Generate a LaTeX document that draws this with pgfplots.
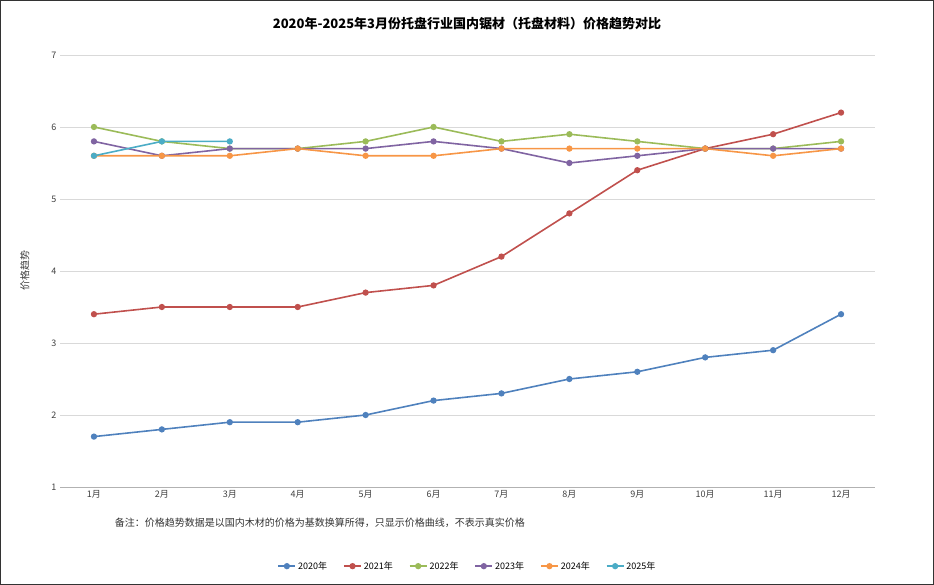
\documentclass[border=0pt]{standalone}
\usepackage{pgfplots}
\pgfplotsset{compat=1.18}
\usepackage{fontspec}
\setmainfont{Noto Sans CJK SC}
\definecolor{c1}{HTML}{4F81BD}
\definecolor{c2}{HTML}{C0504D}
\definecolor{c3}{HTML}{9BBB59}
\definecolor{c4}{HTML}{8064A2}
\definecolor{c5}{HTML}{F79646}
\definecolor{c6}{HTML}{4BACC6}
\begin{document}
\begin{tikzpicture}[x=1pt,y=1pt]
\draw[black!80,line width=1pt] (0.5,0.5) rectangle (933.5,584.5);
\node[font=\fontsize{13}{15}\selectfont\bfseries] at (467,561) {2020年-2025年3月份托盘行业国内锯材（托盘材料）价格趋势对比};
\begin{axis}[at={(60pt,98pt)},anchor=south west,scale only axis,
 width=815pt,height=432pt,
 xmin=0.5,xmax=12.5,ymin=1,ymax=7,
 xtick={1,...,12},xticklabels={1月,2月,3月,4月,5月,6月,7月,8月,9月,10月,11月,12月},
 ytick={1,...,7},
 /pgf/number format/assume math mode=true,
 tick label style={font=\fontsize{9}{11}\selectfont,text=black!75},
 axis x line*=bottom, axis y line*=left,
 x axis line style={black!30,-},
 y axis line style={draw=none},
 xtick style={draw=none}, ytick style={draw=none},
 ymajorgrids, grid style={black!15},
 ylabel={价格趋势},
 every axis y label/.style={at={(-0.043,0.5)},rotate=90,font=\fontsize{10}{12}\selectfont,text=black!75},
 legend style={at={(0.5,-0.163)},anchor=north,legend columns=-1,draw=none,font=\fontsize{9}{11}\selectfont,/tikz/every even column/.append style={column sep=14pt}},
 every axis plot/.append style={line width=1.6pt,mark=*,mark size=2.3pt},
 clip=false]
\addplot[c1,mark options={fill=c1}] coordinates {(1,1.7)(2,1.8)(3,1.9)(4,1.9)(5,2.0)(6,2.2)(7,2.3)(8,2.5)(9,2.6)(10,2.8)(11,2.9)(12,3.4)};
\addlegendentry{2020年}
\addplot[c2,mark options={fill=c2}] coordinates {(1,3.4)(2,3.5)(3,3.5)(4,3.5)(5,3.7)(6,3.8)(7,4.2)(8,4.8)(9,5.4)(10,5.7)(11,5.9)(12,6.2)};
\addlegendentry{2021年}
\addplot[c3,mark options={fill=c3}] coordinates {(1,6.0)(2,5.8)(3,5.7)(4,5.7)(5,5.8)(6,6.0)(7,5.8)(8,5.9)(9,5.8)(10,5.7)(11,5.7)(12,5.8)};
\addlegendentry{2022年}
\addplot[c4,mark options={fill=c4}] coordinates {(1,5.8)(2,5.6)(3,5.7)(4,5.7)(5,5.7)(6,5.8)(7,5.7)(8,5.5)(9,5.6)(10,5.7)(11,5.7)(12,5.7)};
\addlegendentry{2023年}
\addplot[c5,mark options={fill=c5}] coordinates {(1,5.6)(2,5.6)(3,5.6)(4,5.7)(5,5.6)(6,5.6)(7,5.7)(8,5.7)(9,5.7)(10,5.7)(11,5.6)(12,5.7)};
\addlegendentry{2024年}
\addplot[c6,mark options={fill=c6}] coordinates {(1,5.6)(2,5.8)(3,5.8)};
\addlegendentry{2025年}
\node[anchor=west,font=\fontsize{10}{12}\selectfont,text=black!80] at (axis description cs:0.063,-0.083) {备注：价格趋势数据是以国内木材的价格为基数换算所得，只显示价格曲线，不表示真实价格};
\end{axis}
\end{tikzpicture}
\end{document}
